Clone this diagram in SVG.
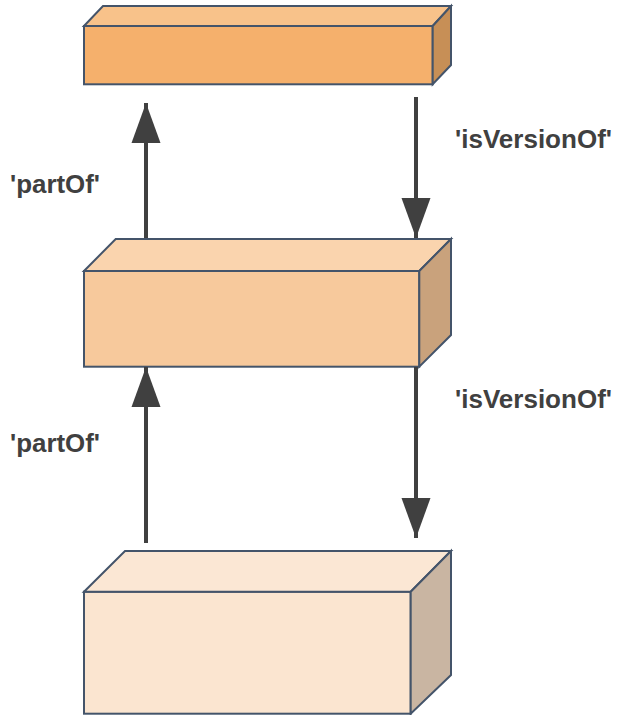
<svg xmlns="http://www.w3.org/2000/svg" width="620" height="715" viewBox="0 0 620 715">
<style>
.edge{stroke:#44546A;stroke-width:2;stroke-linejoin:miter}
.conn{stroke:#404040;stroke-width:4;fill:none}
.lbl{font-family:"Liberation Sans",Arial,sans-serif;font-weight:bold;font-size:25px;fill:#404040}
</style>
<defs>
<marker id="ah" markerUnits="userSpaceOnUse" markerWidth="40" markerHeight="30" refX="40" refY="14.5" orient="auto" viewBox="0 0 40 29">
<path d="M0,0 L40,14.5 L0,29 z" fill="#404040"/>
</marker>
</defs>
<rect width="620" height="715" fill="#ffffff"/>
<g id="top-box">
<rect class="edge" x="84" y="26" width="348.7" height="58.3" fill="#F5B06C"/>
<polygon class="edge" points="84,26 103,6 451,6 432.7,26" fill="#F8C28A"/>
<polygon class="edge" points="432.7,26 451,6 451,65 432.7,84.3" fill="#C78F56"/>
</g>
<g id="middle-box">
<rect class="edge" x="84" y="271" width="335.3" height="95.7" fill="#F7C99C"/>
<polygon class="edge" points="84,271 115.7,239 451,239 419.3,271" fill="#FAD4AE"/>
<polygon class="edge" points="419.3,271 451,239 451,335 419.3,366.7" fill="#C9A27C"/>
</g>
<g id="bottom-box">
<rect class="edge" x="84" y="591.7" width="326.7" height="122" fill="#FBE5D0"/>
<polygon class="edge" points="84,591.7 125,551 451,551 410.7,591.7" fill="#FBE7D4"/>
<polygon class="edge" points="410.7,591.7 451,551 451,675 410.7,713.7" fill="#C9B5A2"/>
</g>
<g id="connectors">
<line class="conn" x1="146" y1="238" x2="146" y2="103" marker-end="url(#ah)"/>
<line class="conn" x1="416" y1="97" x2="416" y2="238" marker-end="url(#ah)"/>
<line class="conn" x1="146" y1="543" x2="146" y2="367" marker-end="url(#ah)"/>
<line class="conn" x1="416" y1="367" x2="416" y2="538" marker-end="url(#ah)"/>
</g>
<g id="labels">
<text class="lbl" x="10" y="192.5" textLength="90" lengthAdjust="spacingAndGlyphs">'partOf'</text>
<text class="lbl" x="455" y="147.5" textLength="157" lengthAdjust="spacingAndGlyphs">'isVersionOf'</text>
<text class="lbl" x="10" y="451.5" textLength="90" lengthAdjust="spacingAndGlyphs">'partOf'</text>
<text class="lbl" x="455" y="407.5" textLength="157" lengthAdjust="spacingAndGlyphs">'isVersionOf'</text>
</g>
</svg>
